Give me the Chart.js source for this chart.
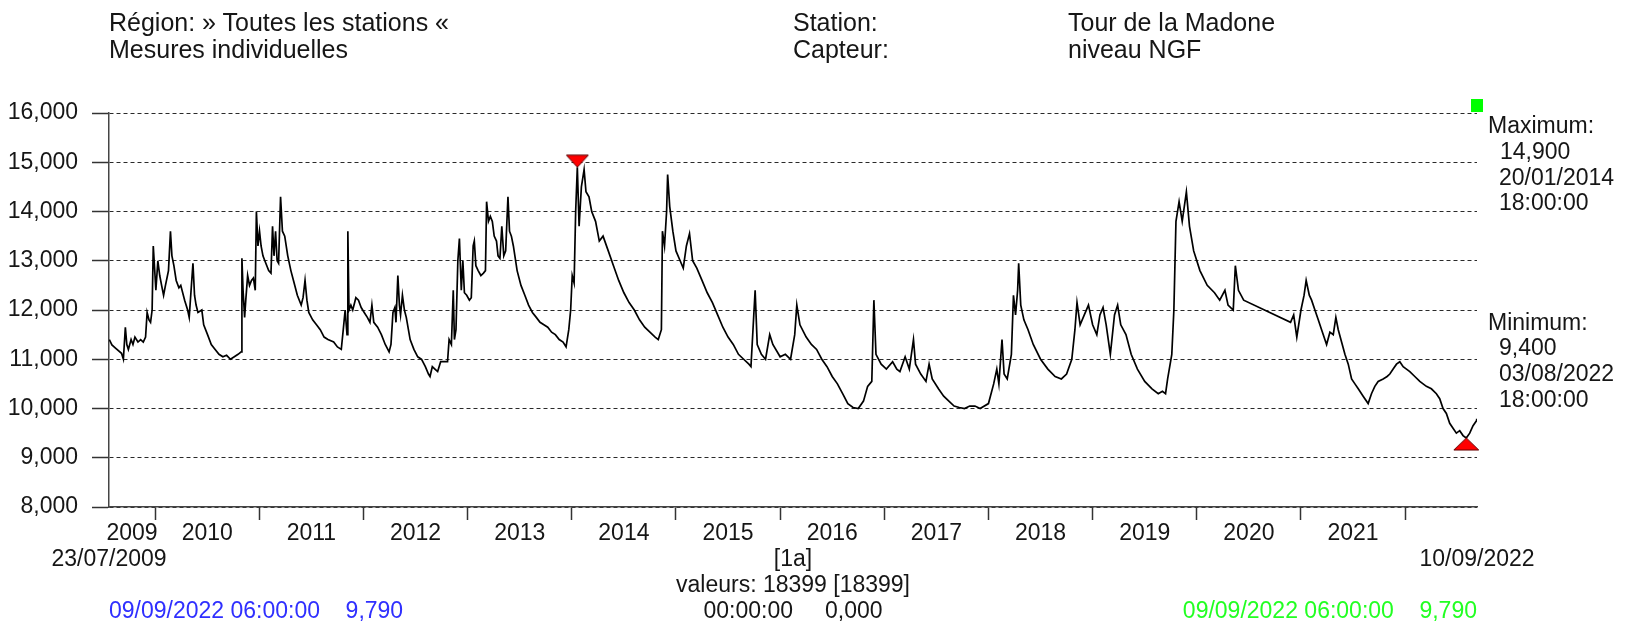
<!DOCTYPE html>
<html lang="fr">
<head>
<meta charset="UTF-8">
<title>Tour de la Madone - niveau NGF</title>
<script src="https://cdn.jsdelivr.net/npm/chart.js"></script>
<style>
  body { margin: 0; background: #fff; }
  #cadre { position: relative; width: 1634px; height: 627px; font-family: "Liberation Sans", Arial, sans-serif; color: #161616; }
  .txt { position: absolute; white-space: pre; line-height: 1; }
  .c { transform: translateX(-50%); }
</style>
</head>
<body>
<div id="cadre">
  <canvas id="graphique"></canvas>

  <div class="txt" style="left:109px;top:10px;font-size:25px">Région: » Toutes les stations «</div>
  <div class="txt" style="left:109px;top:37px;font-size:25px">Mesures individuelles</div>
  <div class="txt" style="left:793px;top:10px;font-size:25px">Station:</div>
  <div class="txt" style="left:793px;top:37px;font-size:25px">Capteur:</div>
  <div class="txt" style="left:1068px;top:10px;font-size:25px">Tour de la Madone</div>
  <div class="txt" style="left:1068px;top:37px;font-size:25px">niveau NGF</div>

  <div class="txt" style="left:1488px;top:114px;font-size:23px">Maximum:</div>
  <div class="txt" style="left:1500px;top:140px;font-size:23px">14,900</div>
  <div class="txt" style="left:1499px;top:166px;font-size:23px">20/01/2014</div>
  <div class="txt" style="left:1499px;top:191px;font-size:23px">18:00:00</div>
  <div class="txt" style="left:1488px;top:311px;font-size:23px">Minimum:</div>
  <div class="txt" style="left:1499px;top:336px;font-size:23px">9,400</div>
  <div class="txt" style="left:1499px;top:362px;font-size:23px">03/08/2022</div>
  <div class="txt" style="left:1499px;top:388px;font-size:23px">18:00:00</div>

  <div class="txt c" style="left:109px;top:547px;font-size:23px">23/07/2009</div>
  <div class="txt c" style="left:1477px;top:547px;font-size:23px">10/09/2022</div>
  <div class="txt c" style="left:793px;top:547px;font-size:23px">[1a]</div>
  <div class="txt c" style="left:793px;top:573px;font-size:23px">valeurs: 18399 [18399]</div>
  <div class="txt c" style="left:793px;top:599px;font-size:23px">00:00:00     0,000</div>
  <div class="txt" style="left:109px;top:599px;font-size:23px;color:#2f2fff">09/09/2022 06:00:00    9,790</div>
  <div class="txt" style="right:157px;top:599px;font-size:23px;color:#22ff22">09/09/2022 06:00:00    9,790</div>
</div>

<script>
// dates en années décimales, niveaux en m NGF
var dates = [
  2009.560, 2009.585, 2009.622, 2009.677, 2009.695, 2009.714, 2009.728, 2009.743, 2009.769, 2009.787,
  2009.806, 2009.835, 2009.861, 2009.886, 2009.908, 2009.923, 2009.941, 2009.956, 2009.971, 2009.982,
  2009.996, 2010.007, 2010.026, 2010.044, 2010.062, 2010.081, 2010.099, 2010.128, 2010.147, 2010.161,
  2010.180, 2010.202, 2010.228, 2010.246, 2010.283, 2010.312, 2010.327, 2010.345, 2010.363, 2010.378,
  2010.393, 2010.411, 2010.448, 2010.466, 2010.503, 2010.539, 2010.576, 2010.613, 2010.650, 2010.686,
  2010.723, 2010.760, 2010.796, 2010.826, 2010.833, 2010.844, 2010.859, 2010.870, 2010.888, 2010.906,
  2010.925, 2010.943, 2010.961, 2010.972, 2010.987, 2011.002, 2011.017, 2011.035, 2011.053, 2011.090,
  2011.112, 2011.127, 2011.141, 2011.156, 2011.171, 2011.185, 2011.204, 2011.222, 2011.244, 2011.273,
  2011.303, 2011.328, 2011.365, 2011.402, 2011.420, 2011.439, 2011.457, 2011.475, 2011.512, 2011.549,
  2011.585, 2011.622, 2011.659, 2011.714, 2011.750, 2011.787, 2011.806, 2011.824, 2011.842, 2011.850,
  2011.861, 2011.879, 2011.897, 2011.927, 2011.952, 2011.978, 2012.007, 2012.037, 2012.062, 2012.081,
  2012.099, 2012.136, 2012.172, 2012.209, 2012.246, 2012.264, 2012.283, 2012.301, 2012.312, 2012.330,
  2012.345, 2012.356, 2012.374, 2012.393, 2012.411, 2012.448, 2012.484, 2012.521, 2012.558, 2012.594,
  2012.624, 2012.639, 2012.661, 2012.686, 2012.712, 2012.741, 2012.778, 2012.807, 2012.822, 2012.844,
  2012.862, 2012.873, 2012.888, 2012.906, 2012.921, 2012.939, 2012.954, 2012.969, 2012.991, 2013.017,
  2013.035, 2013.053, 2013.064, 2013.079, 2013.101, 2013.127, 2013.152, 2013.171, 2013.182, 2013.200,
  2013.218, 2013.237, 2013.255, 2013.277, 2013.292, 2013.310, 2013.328, 2013.347, 2013.365, 2013.387,
  2013.402, 2013.420, 2013.439, 2013.475, 2013.512, 2013.549, 2013.585, 2013.622, 2013.659, 2013.695,
  2013.732, 2013.769, 2013.806, 2013.842, 2013.879, 2013.916, 2013.945, 2013.971, 2013.989, 2014.004,
  2014.022, 2014.037, 2014.053, 2014.070, 2014.092, 2014.118, 2014.136, 2014.165, 2014.191, 2014.228,
  2014.264, 2014.300, 2014.350, 2014.400, 2014.450, 2014.500, 2014.550, 2014.600, 2014.650, 2014.700,
  2014.750, 2014.800, 2014.830, 2014.860, 2014.870, 2014.890, 2014.910, 2014.920, 2014.940, 2014.970,
  2015.000, 2015.040, 2015.070, 2015.100, 2015.130, 2015.160, 2015.200, 2015.250, 2015.300, 2015.350,
  2015.400, 2015.450, 2015.500, 2015.550, 2015.600, 2015.650, 2015.700, 2015.720, 2015.760, 2015.780,
  2015.820, 2015.860, 2015.900, 2015.930, 2016.000, 2016.050, 2016.100, 2016.140, 2016.160, 2016.190,
  2016.250, 2016.300, 2016.350, 2016.400, 2016.450, 2016.500, 2016.550, 2016.600, 2016.650, 2016.700,
  2016.750, 2016.800, 2016.840, 2016.880, 2016.900, 2016.920, 2016.970, 2017.020, 2017.080, 2017.120,
  2017.150, 2017.200, 2017.240, 2017.280, 2017.300, 2017.350, 2017.400, 2017.430, 2017.460, 2017.520,
  2017.570, 2017.620, 2017.670, 2017.720, 2017.770, 2017.820, 2017.870, 2017.920, 2018.000, 2018.050,
  2018.080, 2018.100, 2018.130, 2018.150, 2018.180, 2018.220, 2018.240, 2018.260, 2018.280, 2018.290,
  2018.310, 2018.340, 2018.380, 2018.430, 2018.500, 2018.570, 2018.640, 2018.700, 2018.750, 2018.800,
  2018.830, 2018.850, 2018.880, 2018.920, 2018.960, 2019.000, 2019.040, 2019.070, 2019.100, 2019.130,
  2019.170, 2019.210, 2019.240, 2019.270, 2019.320, 2019.370, 2019.430, 2019.500, 2019.570, 2019.630,
  2019.670, 2019.700, 2019.720, 2019.760, 2019.780, 2019.800, 2019.830, 2019.860, 2019.900, 2019.930,
  2019.970, 2020.030, 2020.100, 2020.170, 2020.220, 2020.270, 2020.300, 2020.350, 2020.370, 2020.400,
  2020.450, 2020.900, 2020.930, 2020.960, 2021.000, 2021.030, 2021.050, 2021.080, 2021.102, 2021.134,
  2021.166, 2021.198, 2021.246, 2021.278, 2021.310, 2021.335, 2021.358, 2021.390, 2021.422, 2021.454,
  2021.486, 2021.518, 2021.550, 2021.597, 2021.645, 2021.677, 2021.709, 2021.741, 2021.789, 2021.827,
  2021.853, 2021.885, 2021.917, 2021.949, 2021.981, 2022.013, 2022.045, 2022.093, 2022.141, 2022.204,
  2022.252, 2022.300, 2022.332, 2022.364, 2022.396, 2022.428, 2022.460, 2022.492, 2022.524, 2022.556,
  2022.587, 2022.620, 2022.652, 2022.684, 2022.687
];
var niveaux = [
  11.40, 11.29, 11.22, 11.12, 11.00, 11.65, 11.30, 11.20, 11.40, 11.30,
  11.45, 11.35, 11.40, 11.35, 11.45, 11.95, 11.80, 11.75, 12.00, 13.30,
  12.80, 12.40, 13.00, 12.70, 12.50, 12.30, 12.50, 12.80, 13.60, 13.10,
  12.90, 12.60, 12.45, 12.50, 12.20, 12.00, 11.85, 12.40, 12.95, 12.30,
  12.10, 11.95, 12.00, 11.70, 11.50, 11.30, 11.20, 11.10, 11.05, 11.08,
  11.00, 11.05, 11.10, 11.15, 13.05, 12.40, 11.85, 12.20, 12.70, 12.50,
  12.60, 12.65, 12.40, 14.00, 13.30, 13.60, 13.30, 13.10, 13.00, 12.80,
  12.75, 13.70, 13.10, 13.60, 13.00, 12.95, 14.30, 13.60, 13.50, 13.10,
  12.80, 12.60, 12.30, 12.10, 12.25, 12.60, 12.20, 11.95, 11.80, 11.70,
  11.60, 11.45, 11.40, 11.35, 11.25, 11.20, 11.60, 12.00, 11.50, 13.60,
  12.00, 12.10, 12.00, 12.25, 12.20, 12.05, 11.95, 11.85, 11.75, 12.10,
  11.75, 11.65, 11.50, 11.30, 11.15, 11.30, 11.95, 12.05, 11.75, 12.70,
  12.10, 11.90, 12.30, 12.00, 11.85, 11.40, 11.20, 11.05, 11.00, 10.85,
  10.70, 10.65, 10.85, 10.80, 10.75, 10.95, 10.95, 10.95, 11.40, 11.30,
  12.40, 11.40, 11.60, 13.00, 13.45, 12.40, 13.00, 12.35, 12.30, 12.20,
  12.25, 13.30, 13.40, 12.90, 12.80, 12.70, 12.75, 12.80, 14.20, 13.80,
  13.90, 13.80, 13.50, 13.40, 13.10, 13.05, 13.70, 13.10, 13.20, 14.30,
  13.60, 13.50, 13.30, 12.80, 12.50, 12.30, 12.10, 11.95, 11.85, 11.75,
  11.70, 11.65, 11.55, 11.50, 11.40, 11.35, 11.25, 11.60, 12.00, 12.70,
  12.55, 14.00, 14.90, 13.70, 14.50, 14.85, 14.40, 14.30, 14.00, 13.80,
  13.40, 13.50, 13.20, 12.90, 12.60, 12.35, 12.15, 12.00, 11.80, 11.65,
  11.55, 11.45, 11.40, 11.60, 13.60, 13.30, 14.00, 14.75, 14.10, 13.60,
  13.20, 13.00, 12.85, 13.30, 13.55, 13.00, 12.85, 12.60, 12.35, 12.15,
  11.90, 11.65, 11.45, 11.30, 11.10, 11.00, 10.90, 10.85, 12.40, 11.30,
  11.10, 11.00, 11.50, 11.30, 11.05, 11.10, 11.00, 11.50, 12.10, 11.70,
  11.45, 11.30, 11.20, 11.00, 10.85, 10.65, 10.50, 10.30, 10.10, 10.02,
  10.00, 10.15, 10.45, 10.55, 12.20, 11.10, 10.90, 10.80, 10.95, 10.80,
  10.75, 11.05, 10.80, 11.40, 10.90, 10.70, 10.55, 10.90, 10.60, 10.40,
  10.25, 10.15, 10.05, 10.02, 10.00, 10.05, 10.05, 10.00, 10.10, 10.50,
  10.80, 10.50, 11.40, 10.70, 10.60, 11.10, 12.30, 11.90, 12.40, 12.95,
  12.10, 11.80, 11.60, 11.30, 11.00, 10.80, 10.65, 10.60, 10.70, 11.00,
  11.60, 12.15, 11.70, 11.90, 12.10, 11.70, 11.50, 11.90, 12.05, 11.70,
  11.10, 11.90, 12.10, 11.70, 11.50, 11.10, 10.80, 10.55, 10.40, 10.30,
  10.35, 10.30, 10.60, 11.10, 12.00, 13.80, 14.20, 13.80, 14.40, 13.70,
  13.20, 12.80, 12.50, 12.35, 12.20, 12.40, 12.10, 12.00, 12.90, 12.40,
  12.20, 11.75, 11.90, 11.45, 12.00, 12.30, 12.60, 12.30, 12.20, 12.00,
  11.80, 11.60, 11.30, 11.55, 11.50, 11.85, 11.60, 11.35, 11.10, 10.90,
  10.60, 10.50, 10.40, 10.25, 10.10, 10.30, 10.45, 10.55, 10.60, 10.65,
  10.70, 10.80, 10.90, 10.95, 10.85, 10.80, 10.75, 10.65, 10.55, 10.45,
  10.40, 10.30, 10.20, 10.00, 9.90, 9.70, 9.60, 9.50, 9.55, 9.45,
  9.40, 9.50, 9.65, 9.75, 9.79
];
// maximum et minimum signalés par les triangles rouges
var extremesDates = [2014.053, 2022.587];
var extremesNiveaux = [14.9, 9.4];
// années affichées sous l'axe
var annees = ['2009', '2010', '2011', '2012', '2013', '2014', '2015', '2016', '2017', '2018', '2019', '2020', '2021'];
var debut = 2009.557;   // 23/07/2009
var fin = 2022.690;     // 10/09/2022
var niveauMin = 8, niveauMax = 16, pasNiveau = 1;

var police = '"Liberation Sans", Arial, sans-serif';

// triangles rouges, la pointe au centre de l'image
function triangle(versLeBas, largeur) {
    var c = document.createElement('canvas');
    c.width = largeur + 2; c.height = 26;
    var g = c.getContext('2d');
    var m = c.width / 2;
    g.beginPath();
    if (versLeBas) {
        g.moveTo(1, 1); g.lineTo(largeur + 1, 1); g.lineTo(m, 13);
    } else {
        g.moveTo(m, 13); g.lineTo(largeur + 1, 25); g.lineTo(1, 25);
    }
    g.closePath();
    g.fillStyle = '#ff0000';
    g.fill();
    g.strokeStyle = '#600000';
    g.lineWidth = 1;
    g.stroke();
    return c;
}

var carreVert = {
    id: 'carreVert',
    afterDraw: function(chart) {
        var ctx = chart.ctx;
        var x = chart.scales.x.getPixelForValue(fin);
        var y = chart.chartArea.top;
        ctx.save();
        ctx.fillStyle = '#00ff00';
        ctx.fillRect(x - 6, y - 14, 12, 13);
        ctx.restore();
    }
};

var ctx = document.getElementById('graphique').getContext('2d');

var graphique = new Chart(ctx, {
    type: 'line',
    data: {
        datasets: [{
            label: 'extremes',
            type: 'scatter',
            data: extremesDates.map(function(d, i) { return {x: d, y: extremesNiveaux[i]}; }),
            pointStyle: [triangle(true, 22), triangle(false, 25)],
            pointRadius: 12,
            order: 0,
            clip: false
        }, {
            label: 'niveau NGF',
            data: dates.map(function(d, i) { return {x: d, y: niveaux[i]}; }),
            borderColor: '#000',
            borderWidth: 1.7,
            pointRadius: 0,
            tension: 0,
            order: 1
        }]
    },
    options: {
        responsive: true,
        maintainAspectRatio: false,
        animation: false,
        layout: { padding: { left: 0, right: 157, top: 113, bottom: 0 } },
        plugins: {
            legend: { display: false },
            tooltip: { enabled: false }
        },
        scales: {
            x: {
                type: 'linear',
                min: debut,
                max: fin,
                afterBuildTicks: function(scale) {
                    var t = [];
                    for (var i = 0; i < annees.length; i++) {
                        var a = parseInt(annees[i], 10);
                        t.push({ value: (Math.max(a, debut) + a + 1) / 2 });
                        t.push({ value: a + 1 });
                    }
                    scale.ticks = t;
                },
                afterFit: function(scale) { scale.height = 120; },
                ticks: {
                    autoSkip: false,
                    maxRotation: 0,
                    padding: 0,
                    color: '#161616',
                    font: { family: police, size: 23 },
                    callback: function(v, i) { return i % 2 === 0 ? annees[i / 2] : ''; }
                },
                grid: {
                    drawOnChartArea: false,
                    tickLength: 13,
                    tickWidth: 1.5,
                    tickColor: function(c) { return c.index % 2 === 1 ? '#333' : 'rgba(0,0,0,0)'; }
                },
                border: { display: true, color: '#444', width: 1.5 }
            },
            y: {
                min: niveauMin,
                max: niveauMax,
                afterFit: function(scale) { scale.width = 109; },
                ticks: {
                    stepSize: pasNiveau,
                    padding: 14,
                    color: '#161616',
                    font: { family: police, size: 23 },
                    callback: function(v) { return v.toFixed(3).replace('.', ','); }
                },
                grid: {
                    color: '#2a2a2a',
                    lineWidth: 1,
                    tickLength: 17,
                    tickWidth: 1.5,
                    tickColor: '#333'
                },
                border: { display: true, color: '#444', width: 1.5, dash: [4, 3] }
            }
        }
    },
    plugins: [carreVert]
});
</script>
</body>
</html>
